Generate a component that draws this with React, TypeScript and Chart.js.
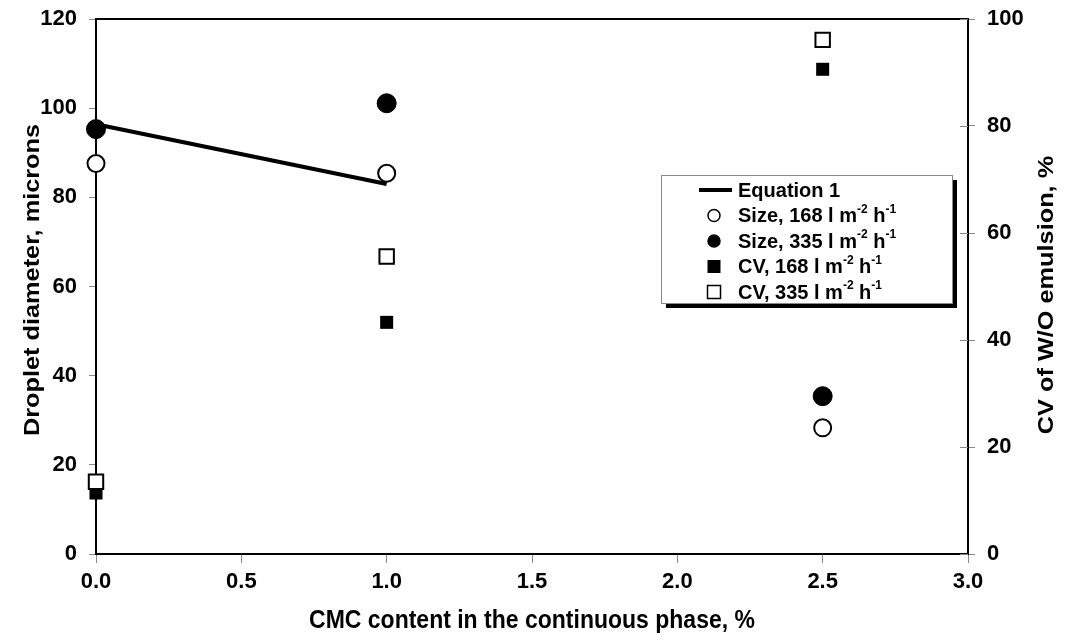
import React, { useEffect, useRef } from "react";
import { Chart, registerables } from "chart.js";

Chart.register(...registerables);

const xValues = [0, 1.0, 2.5];
const size168 = [87.6, 85.4, 28.3];
const size335 = [95.3, 101.1, 35.4];
const cv168 = [11.4, 43.3, 90.6];
const cv335 = [13.5, 55.6, 96.1];
const equationX = [0, 1.0];
const equationY = [96.4, 83.0];

const xTitle = "CMC content in the continuous phase, %";
const yTitle = "Droplet diameter, microns";
const y2Title = "CV of W/O emulsion, %";

const legendItems = [
  { kind: "line", parts: [["Equation 1", false]] },
  { kind: "openCircle", parts: [["Size, 168 l m", false], ["-2", true], [" h", false], ["-1", true]] },
  { kind: "filledCircle", parts: [["Size, 335 l m", false], ["-2", true], [" h", false], ["-1", true]] },
  { kind: "filledSquare", parts: [["CV, 168 l m", false], ["-2", true], [" h", false], ["-1", true]] },
  { kind: "openSquare", parts: [["CV, 335 l m", false], ["-2", true], [" h", false], ["-1", true]] },
];

const FONT = "'Liberation Sans', Arial, Helvetica, sans-serif";

const pts = (xs: number[], ys: number[]) => xs.map((x, i) => ({ x, y: ys[i] }));

const decorPlugin = {
  id: "decor",
  beforeDatasetsDraw(chart: any) {
    const { ctx, chartArea } = chart;
    ctx.save();
    ctx.strokeStyle = "#000";
    ctx.lineWidth = 2;
    ctx.strokeRect(chartArea.left, chartArea.top, chartArea.right - chartArea.left, chartArea.bottom - chartArea.top);
    // inward ticks on the right axis
    const y2 = chart.scales.y2;
    ctx.strokeStyle = "#888";
    ctx.lineWidth = 1;
    y2.ticks.forEach((t: any) => {
      const py = Math.round(y2.getPixelForValue(t.value)) + 0.5;
      ctx.beginPath();
      ctx.moveTo(chartArea.right - 8, py);
      ctx.lineTo(chartArea.right, py);
      ctx.stroke();
    });
    ctx.restore();
  },
  afterDraw(chart: any) {
    const { ctx, chartArea } = chart;
    ctx.save();
    ctx.fillStyle = "#000";
    ctx.textAlign = "center";
    ctx.textBaseline = "middle";
    // x title
    ctx.save();
    ctx.translate((chartArea.left + chartArea.right) / 2, 621);
    ctx.scale(1, 1.1);
    ctx.font = `bold 23px ${FONT}`;
    ctx.fillText(xTitle, 0, 0);
    ctx.restore();
    // left title
    ctx.save();
    ctx.translate(33, 280);
    ctx.rotate(-Math.PI / 2);
    ctx.scale(1.15, 1);
    ctx.font = `bold 22px ${FONT}`;
    ctx.fillText(yTitle, 0, 0);
    ctx.restore();
    // right title
    ctx.save();
    ctx.translate(1047, 295);
    ctx.rotate(-Math.PI / 2);
    ctx.scale(1.15, 1);
    ctx.font = `bold 22px ${FONT}`;
    ctx.fillText(y2Title, 0, 0);
    ctx.restore();

    // legend
    const lx = 661, ly = 175, lw = 291, lh = 128;
    ctx.fillStyle = "#000";
    ctx.fillRect(lx + 5, ly + 5, lw, lh);
    ctx.fillStyle = "#fff";
    ctx.fillRect(lx, ly, lw, lh);
    ctx.strokeStyle = "#888";
    ctx.lineWidth = 1;
    ctx.strokeRect(lx + 0.5, ly + 0.5, lw, lh);

    const mx = 714;
    legendItems.forEach((item, i) => {
      const cy = 190 + i * 25.5;
      ctx.fillStyle = "#000";
      ctx.strokeStyle = "#000";
      if (item.kind === "line") {
        ctx.lineWidth = 4;
        ctx.beginPath();
        ctx.moveTo(699, cy);
        ctx.lineTo(732, cy);
        ctx.stroke();
      } else if (item.kind === "openCircle" || item.kind === "filledCircle") {
        ctx.beginPath();
        ctx.arc(mx, cy, 6, 0, Math.PI * 2);
        ctx.fillStyle = item.kind === "openCircle" ? "#fff" : "#000";
        ctx.fill();
        ctx.lineWidth = 1.5;
        ctx.stroke();
      } else if (item.kind === "filledSquare") {
        ctx.fillRect(mx - 6.5, cy - 6.5, 13, 13);
      } else {
        ctx.fillStyle = "#fff";
        ctx.fillRect(mx - 6.5, cy - 6.5, 13, 13);
        ctx.lineWidth = 1.5;
        ctx.strokeRect(mx - 6.5, cy - 6.5, 13, 13);
      }
      let tx = 738;
      ctx.fillStyle = "#000";
      ctx.textAlign = "left";
      (item.parts as any[]).forEach(([txt, sup]) => {
        if (sup) {
          ctx.font = `bold 12px ${FONT}`;
          ctx.textBaseline = "middle";
          ctx.fillText(txt, tx, cy - 6);
        } else {
          ctx.font = `bold 20px ${FONT}`;
          ctx.textBaseline = "middle";
          ctx.fillText(txt, tx, cy + 1);
        }
        tx += ctx.measureText(txt).width;
      });
    });
    ctx.restore();
  },
};

export default function App() {
  const ref = useRef<HTMLCanvasElement | null>(null);
  useEffect(() => {
    if (!ref.current) return;
    const tickFont = { family: FONT, size: 22, weight: "bold" as const };
    const chart = new Chart(ref.current, {
      type: "scatter",
      data: {
        datasets: [
          {
            label: "Equation 1",
            data: pts(equationX, equationY),
            showLine: true,
            borderColor: "#000",
            borderWidth: 4,
            pointRadius: 0,
            yAxisID: "y",
            clip: false as any,
          },
          {
            label: "Size, 335",
            data: pts(xValues, size335),
            pointStyle: "circle",
            pointRadius: 9.5,
            backgroundColor: "#000",
            borderColor: "#000",
            borderWidth: 1,
            yAxisID: "y",
            clip: false as any,
          },
          {
            label: "Size, 168",
            data: pts(xValues, size168),
            pointStyle: "circle",
            pointRadius: 8.5,
            backgroundColor: "#fff",
            borderColor: "#000",
            borderWidth: 2,
            yAxisID: "y",
            clip: false as any,
          },
          {
            label: "CV, 335",
            data: pts(xValues, cv335),
            pointStyle: "rect",
            pointRadius: 10.2,
            backgroundColor: "#fff",
            borderColor: "#000",
            borderWidth: 2,
            yAxisID: "y2",
            clip: false as any,
          },
          {
            label: "CV, 168",
            data: pts(xValues, cv168),
            pointStyle: "rect",
            pointRadius: 9.2,
            backgroundColor: "#000",
            borderColor: "#000",
            borderWidth: 0,
            yAxisID: "y2",
            clip: false as any,
          },
        ],
      },
      options: {
        responsive: false,
        animation: false,
        devicePixelRatio: 1,
        layout: { padding: { top: 19, left: 0, right: 0, bottom: 0 } },
        plugins: { legend: { display: false }, tooltip: { enabled: false } },
        scales: {
          x: {
            type: "linear",
            min: 0,
            max: 3,
            border: { display: false },
            grid: { drawOnChartArea: false, drawTicks: true, tickLength: 9, color: "#888" },
            ticks: {
              stepSize: 0.5,
              padding: 6,
              color: "#000",
              font: tickFont,
              callback: (v: any) => Number(v).toFixed(1),
            },
            afterFit: (s: any) => {
              s.height = 87;
              s.paddingLeft = 0;
              s.paddingRight = 0;
            },
          },
          y: {
            type: "linear",
            position: "left",
            min: 0,
            max: 120,
            border: { display: false },
            grid: { drawOnChartArea: false, drawTicks: true, tickLength: 7, color: "#888" },
            ticks: { stepSize: 20, padding: 12, color: "#000", font: tickFont },
            afterFit: (s: any) => {
              s.width = 96;
              s.paddingTop = 0;
              s.paddingBottom = 0;
            },
          },
          y2: {
            type: "linear",
            position: "right",
            min: 0,
            max: 100,
            border: { display: false },
            grid: { drawOnChartArea: false, drawTicks: true, tickLength: 7, color: "#888" },
            ticks: { stepSize: 20, padding: 12, color: "#000", font: tickFont },
            afterFit: (s: any) => {
              s.width = 98;
              s.paddingTop = 0;
              s.paddingBottom = 0;
            },
          },
        },
      },
      plugins: [decorPlugin],
    });
    return () => chart.destroy();
  }, []);
  return (
    <div style={{ position: "absolute", left: 0, top: 0, width: 1066, height: 641, background: "#fff" }}>
      <canvas ref={ref} width={1066} height={641} />
    </div>
  );
}
